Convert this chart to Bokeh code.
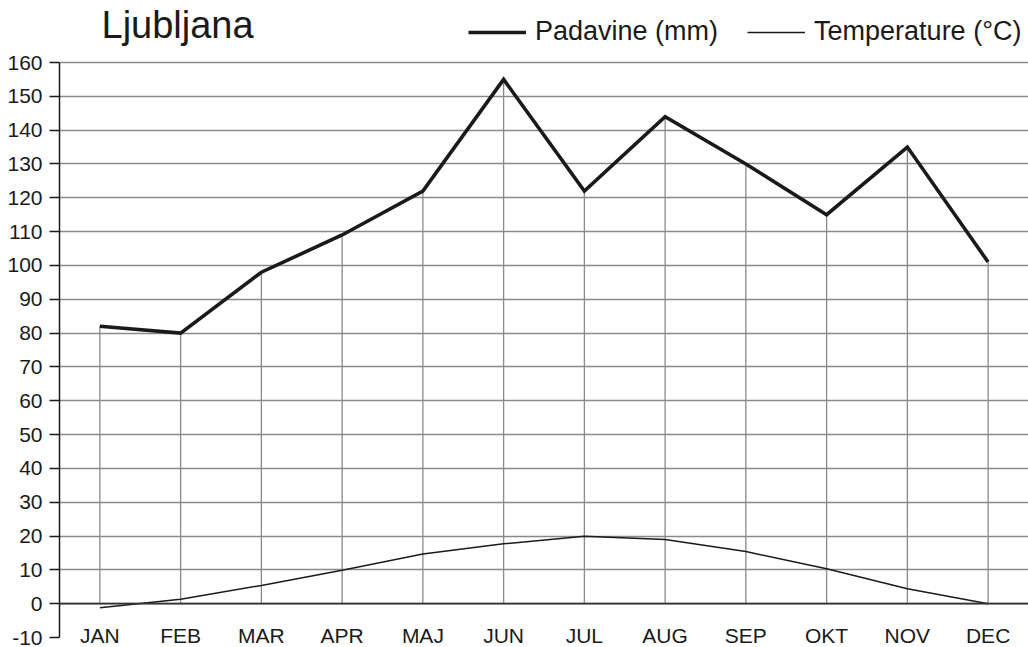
from bokeh.plotting import figure
from bokeh.models import Range1d, FixedTicker, Span, Legend, LegendItem, ColumnDataSource, Label
from bokeh.embed import file_html
from bokeh.resources import INLINE

months = ["JAN", "FEB", "MAR", "APR", "MAJ", "JUN", "JUL", "AUG", "SEP", "OKT", "NOV", "DEC"]
padavine = [82, 80, 98, 109, 122, 155, 122, 144, 130, 115, 135, 101]
temperature = [-1.2, 1.3, 5.4, 9.9, 14.7, 17.7, 19.9, 19.0, 15.4, 10.3, 4.4, 0.0]
y_ticks = list(range(-10, 161, 10))
y_tick_text = {t: str(t) for t in y_ticks}
title_text = "Ljubljana"
legend_labels = ["Padavine (mm)", "Temperature (°C)"]

FONT = "Liberation Sans"
INK = "#1a1a1a"
GRID = "#8a8a8a"

FRAME_W, FRAME_H = 969, 637
Y160_PX = 62                               # pixel row of the 160 gridline from frame top
px_per_unit = (FRAME_H - Y160_PX) / 170.0
y_top = 160 + Y160_PX / px_per_unit
TITLE_BASELINE_PX = 24                     # from frame top (empirically corrected)

src = ColumnDataSource(dict(m=months, p=padavine, t=temperature))

p = figure(frame_width=FRAME_W, frame_height=FRAME_H, x_range=months, y_range=Range1d(-10, y_top),
           output_backend="svg", toolbar_location=None,
           min_border_left=59, min_border_right=0, min_border_top=0, min_border_bottom=0)
p.outline_line_color = None
p.background_fill_color = "white"

# grid
p.xgrid.visible = False
p.ygrid.bounds = (0, 160)
p.ygrid.grid_line_color = GRID
p.ygrid.grid_line_width = 1.3
p.ygrid.ticker = FixedTicker(ticks=y_ticks)

# y axis
p.yaxis.ticker = FixedTicker(ticks=y_ticks)
p.yaxis.major_label_overrides = y_tick_text
p.yaxis.bounds = (-10, 160)
p.yaxis.axis_line_color = INK
p.yaxis.axis_line_width = 1.5
p.yaxis.major_tick_line_color = INK
p.yaxis.major_tick_line_width = 1.3
p.yaxis.major_tick_out = 10
p.yaxis.major_tick_in = 0
p.yaxis.minor_tick_line_color = None
p.yaxis.major_label_text_font = FONT
p.yaxis.major_label_text_font_size = "21px"
p.yaxis.major_label_text_color = INK
p.yaxis.major_label_standoff = 7

# x axis
p.xaxis.axis_line_color = None
p.xaxis.major_tick_line_color = None
p.xaxis.minor_tick_line_color = None
p.xaxis.major_tick_out = 0
p.xaxis.major_tick_in = 0
p.xaxis.major_label_text_font = FONT
p.xaxis.major_label_text_font_size = "21px"
p.xaxis.major_label_text_color = INK
p.xaxis.major_label_standoff = -14

# drop lines
p.segment(x0="m", y0=0, x1="m", y1="p", source=src, line_color=GRID, line_width=1.3)

# zero line
p.add_layout(Span(location=0, dimension="width", line_color="#333333", line_width=1.8))

r1 = p.line("m", "p", source=src, line_color=INK, line_width=3.6, line_join="miter")
r2 = p.line("m", "t", source=src, line_color=INK, line_width=1.5)

# title
p.add_layout(Label(x=42, y=y_top - TITLE_BASELINE_PX / px_per_unit, x_units="screen", y_units="data",
                   text=title_text, text_font=FONT, text_font_size="38px",
                   text_color=INK, text_baseline="alphabetic"))

legend = Legend(items=[LegendItem(label=legend_labels[0], renderers=[r1]),
                       LegendItem(label=legend_labels[1], renderers=[r2])],
                orientation="horizontal", location=(409, FRAME_H - 47),
                label_text_font=FONT, label_text_font_size="27px", label_text_color=INK,
                glyph_width=58, glyph_height=20, label_standoff=9, spacing=29,
                padding=0, margin=0, border_line_color=None, background_fill_alpha=0)
p.add_layout(legend, "center")

open("out.html", "w").write(file_html(p, INLINE))
